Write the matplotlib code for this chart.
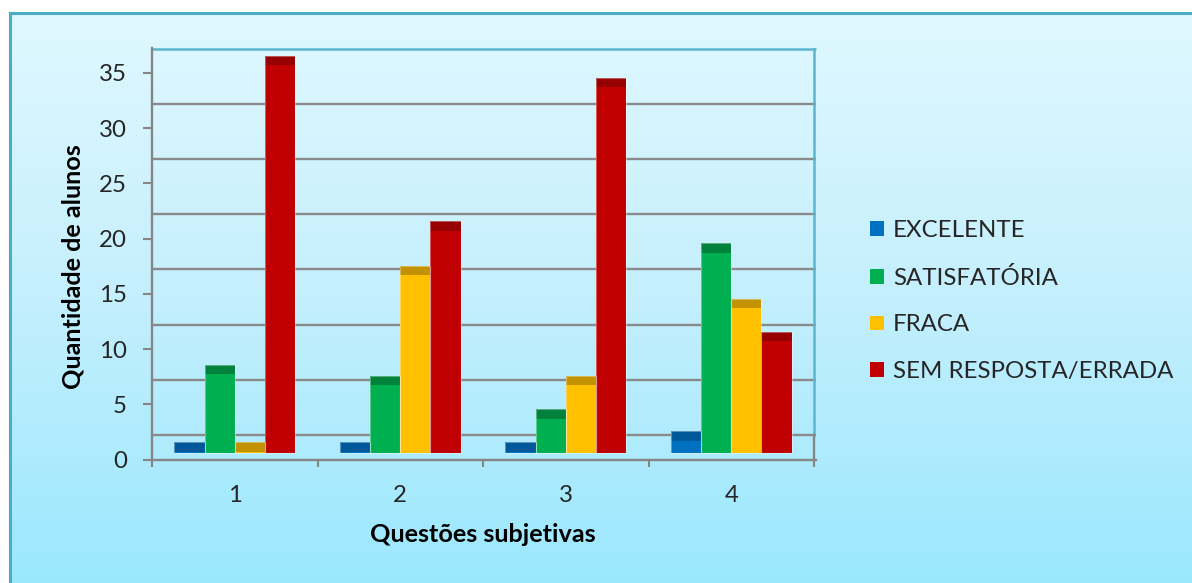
import numpy as np
import matplotlib
matplotlib.use("Agg")
import matplotlib.pyplot as plt
from matplotlib.patches import Patch
from matplotlib.lines import Line2D
from matplotlib.colors import LinearSegmentedColormap

# ---- data -------------------------------------------------------------
questions = ["1", "2", "3", "4"]
series_names = ["EXCELENTE", "SATISFATÓRIA", "FRACA", "SEM RESPOSTA/ERRADA"]
excelente = [1, 1, 1, 2]
satisfatoria = [8, 7, 4, 19]
fraca = [1, 17, 7, 14]
sem_resposta = [36, 21, 34, 11]
y_ticks = [0, 5, 10, 15, 20, 25, 30, 35]

# ---- style ------------------------------------------------------------
face_colors = ["#0070c0", "#00b050", "#ffc000", "#c00000"]
top_colors = ["#00579a", "#00823c", "#c29200", "#960000"]
grid_color = "#8a8a8a"
axis_color = "#868686"
wall_edge = "#5ab6cf"
text_color = "#262626"
plt.rcParams["font.family"] = ["Lato", "DejaVu Sans"]
label_size = 17.3
title_size = 18.2

W, H = 1192, 583
fig = plt.figure(figsize=(W / 100, H / 100), dpi=100)
fig.patch.set_facecolor("white")

# chart-area gradient background
bg = fig.add_axes([9 / W, 0, 1 - 9 / W, (H - 12) / H], zorder=0)
grad = np.linspace(0, 1, 256).reshape(-1, 1)
cmap = LinearSegmentedColormap.from_list("bg", ["#e0f8ff", "#c4effd", "#9be8fe"])
bg.imshow(grad, aspect="auto", cmap=cmap, extent=[0, 1, 0, 1], origin="upper")
bg.set_axis_off()

# chart-area border (top and left)
fig.add_artist(Line2D([9.5 / W, 9.5 / W], [0, (H - 12.8) / H],
                      transform=fig.transFigure, color="#4bacc6", lw=2.2))
fig.add_artist(Line2D([9.5 / W, 1], [(H - 12.8) / H, (H - 12.8) / H],
                      transform=fig.transFigure, color="#4bacc6", lw=2.2))

# ---- plot area --------------------------------------------------------
ax = fig.add_axes([152 / W, (H - 459.5) / H, 664 / W, 411.5 / H], zorder=1)
ax.set_facecolor("none")
ax.set_xlim(0.5, 4.512)
ax.set_ylim(0, 37.25)

wall_depth = 2.2      # vertical shift of the back wall (3-D depth)
floor_shift = 0.56    # bars stand slightly behind the front edge
top_band = 0.86       # visible top face of each 3-D column

# back-wall gridlines
for t in y_ticks[:-1]:
    ax.axhline(t + wall_depth, color=grid_color, lw=1.7, zorder=1)
# wall top and right edges
ax.plot([0.5, 4.512], [35 + wall_depth] * 2, color=wall_edge, lw=1.8,
        clip_on=False, zorder=1, solid_capstyle="butt")
ax.plot([4.5, 4.5], [wall_depth, 35 + wall_depth], color=wall_edge, lw=1.8,
        clip_on=False, zorder=1)
ax.plot([4.5, 4.5], [0, wall_depth], color=axis_color, lw=1.7,
        clip_on=False, zorder=1)

# columns
series = [excelente, satisfatoria, fraca, sem_resposta]
x = np.arange(1, len(questions) + 1)
bw = 0.1825
for i, vals in enumerate(series):
    vals = np.asarray(vals, dtype=float)
    xs = x + (i - 1.5) * bw
    ax.bar(xs, vals, width=bw, bottom=floor_shift, color=face_colors[i],
           linewidth=0, zorder=3)
    band = np.minimum(top_band, vals)
    ax.bar(xs, band, width=bw, bottom=floor_shift + vals - band,
           color=top_colors[i], linewidth=0, zorder=4)
    ax.bar(xs, vals, width=bw, bottom=floor_shift, fill=False,
           edgecolor=(1, 1, 1, 0.35), linewidth=0.8, zorder=5)

# spines
for s in ["top", "right"]:
    ax.spines[s].set_visible(False)
for s in ["left", "bottom"]:
    ax.spines[s].set_color(axis_color)
    ax.spines[s].set_linewidth(1.7)
    ax.spines[s].set_zorder(2)

# y axis
ax.set_yticks(y_ticks)
ax.tick_params(axis="y", direction="out", length=6.5, width=1.5,
               color=axis_color, pad=11.5, labelsize=label_size,
               labelcolor=text_color)

# x axis: ticks on category boundaries, labels at centres
ax.set_xticks(np.arange(0.5, len(questions) + 1, 1.0))
ax.set_xticklabels([])
ax.set_xticks(x, minor=True)
ax.set_xticklabels(questions, minor=True)
ax.tick_params(axis="x", which="major", direction="out", length=5,
               width=1.5, color=axis_color)
ax.tick_params(axis="x", which="minor", length=0, pad=18,
               labelsize=label_size, labelcolor=text_color)

# axis titles
fig.text(483 / W, 1 - 542 / H, "Questões subjetivas", ha="center",
         va="baseline", fontsize=title_size, fontweight="bold",
         color="#000000")
fig.text(73 / W, 1 - 266.7 / H, "Quantidade de alunos", ha="center",
         va="center", rotation=90, fontsize=title_size, fontweight="bold",
         color="#000000")

# legend
handles = [Patch(facecolor=c, edgecolor="none") for c in face_colors]
fig.legend(handles, series_names, loc="center left",
           bbox_to_anchor=(870 / W, 1 - 301 / H), frameon=False,
           fontsize=label_size, handlelength=0.58, handleheight=0.58,
           handletextpad=0.38, labelspacing=1.08, borderpad=0,
           borderaxespad=0, labelcolor=text_color)

fig.savefig("out.png", dpi=100)
